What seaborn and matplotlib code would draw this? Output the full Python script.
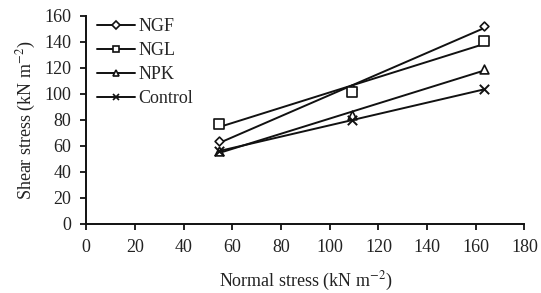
import numpy as np
import pandas as pd
import matplotlib
matplotlib.use("Agg")
import matplotlib.pyplot as plt
from matplotlib.lines import Line2D
import seaborn as sns

# Data
normal_stress = [54.5, 109, 163.5]
ngf = [63.5, 104, 152]
ngl = [77, 101.5, 141]
npk = [56, 83.5, 119.5]
control = [56, 80, 103.5]

series_names = ["NGF", "NGL", "NPK", "Control"]
series_values = [ngf, ngl, npk, control]
series_markers = ["D", "s", "^", "x"]
marker_sizes = [20, 45, 40, 45]

sns.set_style("ticks")
plt.rcParams["font.family"] = ["Liberation Serif", "DejaVu Serif"]
plt.rcParams["mathtext.fontset"] = "stix"

fig = plt.figure(figsize=(5.41, 2.93), dpi=100)
ax = fig.add_axes([0.1595, 0.2355, 0.810, 0.710])

ink = "#111111"
handles = []
for name, vals, mk, ms in zip(series_names, series_values, series_markers, marker_sizes):
    df = pd.DataFrame({"x": normal_stress, "y": vals})
    # least squares trend line
    slope, icpt = np.polyfit(df["x"], df["y"], 1)
    df["fit"] = slope * df["x"] + icpt
    sns.lineplot(data=df, x="x", y="fit", color=ink, linewidth=1.4, ax=ax)
    if mk == "x":
        sns.scatterplot(data=df, x="x", y="y", marker="x", s=ms, color=ink,
                        linewidth=1.4, ax=ax, zorder=3)
    else:
        sns.scatterplot(data=df, x="x", y="y", marker=mk, s=ms, facecolor="white",
                        edgecolor=ink, linewidth=1.2, ax=ax, zorder=3)
    handles.append(Line2D([], [], color=ink, lw=1.4, marker=mk,
                          markersize=5 if mk != "D" else 4,
                          markerfacecolor="white", markeredgecolor=ink,
                          markeredgewidth=1.2, label=name))

ax.set_xlim(0, 180)
ax.set_ylim(0, 160)
ax.set_xticks(range(0, 181, 20))
ax.set_yticks(range(0, 161, 20))
ax.tick_params(axis="both", labelsize=13, length=4.5, width=1.3, color=ink,
               labelcolor="#222222", pad=6.5)
for side in ["left", "bottom"]:
    ax.spines[side].set_linewidth(1.4)
    ax.spines[side].set_color(ink)
sns.despine(ax=ax)

ax.set_xlabel("Normal stress (kN m$^{-2}$)", fontsize=13, color="#222222", labelpad=10)
ax.set_ylabel("Shear stress (kN m$^{-2}$)", fontsize=13, color="#222222", labelpad=4)

ax.legend(handles=handles, loc="upper left", bbox_to_anchor=(0.0, 1.04), frameon=False,
          fontsize=13, handlelength=2.1, handletextpad=0.2, labelspacing=0.38,
          borderaxespad=0.2)

fig.savefig("out.png", dpi=100)
